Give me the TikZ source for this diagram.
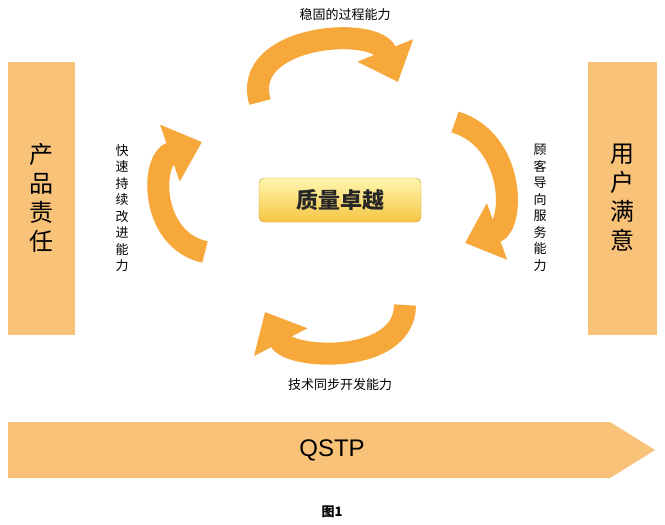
\documentclass[tikz,border=0pt]{standalone}
\usepackage{fontspec}
\setmainfont{Liberation Sans}
\newfontfamily\cjk{Noto Sans CJK SC}
\usetikzlibrary{arrows.meta}
\definecolor{barorange}{HTML}{F9C279}
\definecolor{looporange}{HTML}{F7A83A}
\definecolor{boxtop}{HTML}{FFF6B0}
\definecolor{boxbot}{HTML}{F5C542}
\tikzset{
  bar/.style={fill=barorange,draw=none},
  loop/.style={draw=looporange,line width=22pt,
    -{Triangle[length=34pt,width=58pt,fill=looporange]}},
  vlabel/.style={font=\cjk\fontsize{13}{16.5}\selectfont,align=center},
  hlabel/.style={font=\cjk\fontsize{13}{15}\selectfont},
  big/.style={font=\cjk\fontsize{24}{29}\selectfont,align=center}
}
\begin{document}
\begin{tikzpicture}[x=1pt,y=-1pt]
\useasboundingbox[fill=white] (0,0) rectangle (665,525);
% side bars
\fill[bar] (8,62) rectangle (75,335);
\fill[bar] (588,62) rectangle (657,335);
\node[big] (left) at (41,198) {产\\品\\责\\任};
\node[big] (right) at (622,198) {用\\户\\满\\意};
% bottom arrow
\fill[bar] (8,422) -- (610,422) -- (655,450) -- (610,478) -- (8,478) -- cycle;
\node[font=\fontsize{24}{28}\selectfont] (qstp) at (332,450) {QSTP};
\node[font=\cjk\bfseries\fontsize{13}{15}\selectfont] (fig) at (332,512) {图1};
% centre
\node[draw=boxbot!80!black,line width=0.4pt,rounded corners=5pt,
  top color=boxtop,bottom color=boxbot,minimum width=162pt,minimum height=44pt,
  font=\cjk\bfseries\fontsize{22}{26}\selectfont,text=black!85] (core) at (340,200) {质量卓越};
% loops
\draw[loop] (260,102) .. controls (240,35) and (375,25) .. (398,82);
\draw[loop] (455,122) .. controls (515,140) and (515,225) .. (465,243);
\draw[loop] (405,305) .. controls (405,365) and (290,360) .. (265,312);
\draw[loop] (205,252) .. controls (150,240) and (150,160) .. (202,142);
% labels
\node[hlabel] (top) at (345,15) {稳固的过程能力};
\node[hlabel] (bottom) at (340,385) {技术同步开发能力};
\node[vlabel] (east) at (540,208) {顾\\客\\导\\向\\服\\务\\能\\力};
\node[vlabel] (west) at (122,208) {快\\速\\持\\续\\改\\进\\能\\力};
\end{tikzpicture}
\end{document}
